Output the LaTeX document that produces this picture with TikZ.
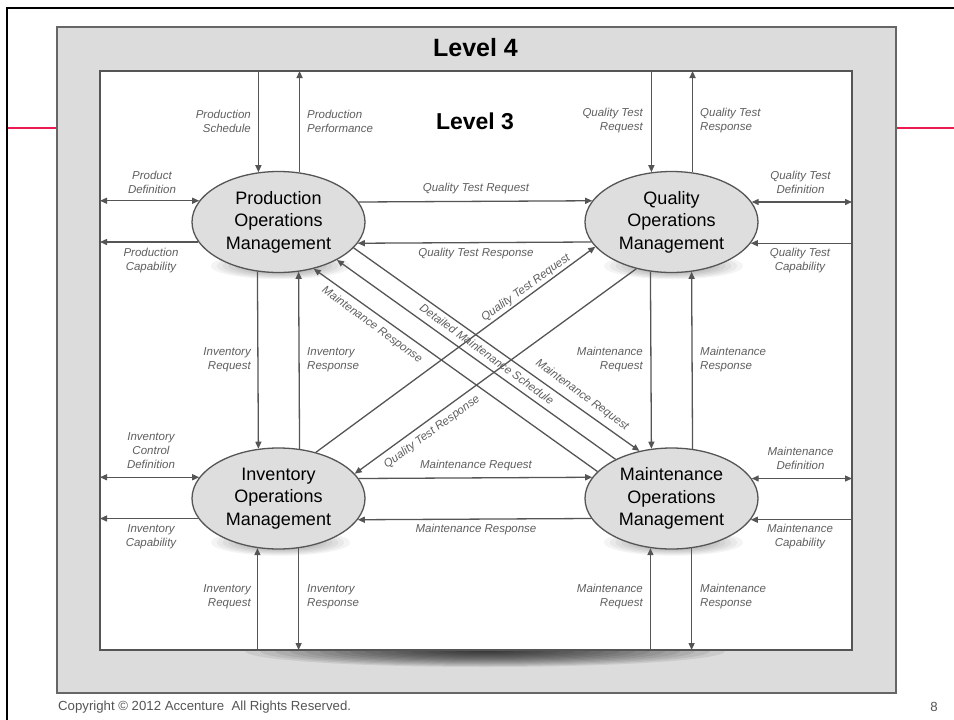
\documentclass[tikz,border=0pt]{standalone}
\usepackage{fontspec}
\setmainfont{Liberation Sans}
\usetikzlibrary{arrows.meta,shapes.geometric,calc}
\definecolor{lc}{RGB}{85,85,85}
\definecolor{txt}{RGB}{95,95,95}
\definecolor{bgfour}{RGB}{220,220,220}
\definecolor{ellfill}{RGB}{222,222,222}
\definecolor{accentred}{RGB}{235,25,80}
\tikzset{
  conn/.style={draw=lc, line width=1.3pt, -{Triangle[length=7pt,width=6pt]}},
  conntwo/.style={draw=lc, line width=1.3pt, {Triangle[length=7pt,width=6pt]}-{Triangle[length=7pt,width=6pt]}},
  lab/.style={font=\fontsize{11.5}{14}\selectfont\itshape, text=txt, inner sep=0pt},
  opm/.style={ellipse, draw=lc, line width=1.3pt, fill=ellfill, minimum width=173pt, minimum height=101pt,
     inner sep=0pt, align=center, font=\fontsize{18}{22.5}\selectfont},
  boxrect/.style={rectangle, inner sep=0pt, outer sep=0pt},
  softshadow/.style={fill=black, opacity=0.045},
}
\begin{document}
\begin{tikzpicture}[x=1pt,y=-1pt]
\useasboundingbox (0,0) rectangle (954,720);
\fill[white] (0,0) rectangle (954,720);
% slide frame
\draw[line width=2.4pt] (7,720) -- (7,8) -- (954,8);
\fill[accentred] (8,126.5) rectangle (56.5,128.5);
\fill[accentred] (896.5,126.5) rectangle (954,128.5);
% level 4 box
\node[boxrect, draw=lc!90, line width=1.3pt, fill=bgfour, minimum width=839pt, minimum height=666pt] (L4) at (476.5,360) {};
% bottom shadow of level 3 box
\begin{scope}
  \clip (101,651) rectangle (851,672);
  \foreach \k in {1,...,16} {
    \fill[black, opacity=0.075] (485,651) ellipse ({15*\k} and {1.0*\k});
  }
\end{scope}
% level 3 box
\node[boxrect, draw=lc, line width=1.3pt, fill=white, minimum width=752pt, minimum height=579pt] (L3) at (476,360.5) {};
\node[font=\fontsize{25}{28}\selectfont\bfseries] (t4) at (475.5,48) {Level 4};
\node[font=\fontsize{23}{26}\selectfont\bfseries] (t3) at (475,121) {Level 3};

% centres of the ellipses and their soft shadows
\coordinate (Pc) at (278.5,222);
\coordinate (Qc) at (671.5,222);
\coordinate (Ic) at (278.5,498.5);
\coordinate (Mc) at (671.5,498.5);
\foreach \c in {Pc,Qc,Ic,Mc} {
  \foreach \k in {1,...,12} {
    \path[softshadow] ($(\c)+(2,44)$) ellipse ({5.8*\k} and {1.1*\k});
  }
}

% ellipses
\node[opm] (P) at (Pc) {Production\\Operations\\Management};
\node[opm] (Q) at (Qc) {Quality\\Operations\\Management};
\node[opm] (I) at (Ic) {Inventory\\Operations\\Management};
\node[opm] (M) at (Mc) {Maintenance\\Operations\\Management};

% vertical connectors, top
\draw[conn] (P.112.67 |- L3.north) -- (P.112.67);
\draw[conn] (P.67.33) -- (P.67.33 |- L3.north);
\draw[conn] (Q.112.67 |- L3.north) -- (Q.112.67);
\draw[conn] (Q.67.33) -- (Q.67.33 |- L3.north);
% vertical connectors, middle
\draw[conn] (P.247.33) -- (I.112.67);
\draw[conn] (I.67.33) -- (P.292.67);
\draw[conn] (Q.247.33) -- (M.112.67);
\draw[conn] (M.67.33) -- (Q.292.67);
% vertical connectors, bottom
\draw[conn] (I.247.33 |- L3.south) -- (I.247.33);
\draw[conn] (I.292.67) -- (I.292.67 |- L3.south);
\draw[conn] (M.247.33 |- L3.south) -- (M.247.33);
\draw[conn] (M.292.67) -- (M.292.67 |- L3.south);

% horizontal connectors
\draw[conntwo] (L3.west |- P.165.36) -- (P.165.36);
\draw[conn] (P.194.64) -- (L3.west |- P.194.64);
\draw[conntwo] (Q.14.64) -- (L3.east |- Q.14.64);
\draw[conn] (L3.east |- Q.345.36) -- (Q.345.36);
\draw[conn] (P.14.64) -- (Q.165.36);
\draw[conn] (Q.194.64) -- (P.345.36);
\draw[conntwo] (L3.west |- I.165.36) -- (I.165.36);
\draw[conn] (I.194.64) -- (L3.west |- I.194.64);
\draw[conntwo] (M.14.64) -- (L3.east |- M.14.64);
\draw[conn] (L3.east |- M.345.36) -- (M.345.36);
\draw[conn] (I.14.64) -- (M.165.36);
\draw[conn] (M.194.64) -- (I.345.36);

% diagonal connectors
\draw[conn] (I.51.9) -- (Q.198.8);
\draw[conn] (Q.233.9) -- (I.18);
\draw[conn] (P.341.9) -- (M.124.3);
\draw[conn] (M.145.3) -- (P.327.4);
\draw[conn] (M.160.9) -- (P.307.3);

% labels top
\node[lab, anchor=east, align=right] (l1) at (251,121) {Production\\Schedule};
\node[lab, anchor=west, align=left] (l2) at (307,121) {Production\\Performance};
\node[lab, anchor=east, align=right] (l3) at (643,121) {Quality Test\\Request};
\node[lab, anchor=west, align=left] (l4) at (700,121) {Quality Test\\Response};
\node[lab, align=center] (l5) at (152,182) {Product\\Definition};
\node[lab, align=center] (l6) at (151,261) {Production\\Capability};
\node[lab, align=center] (l7) at (800.5,182) {Quality Test\\Definition};
\node[lab, align=center] (l8) at (800,261) {Quality Test\\Capability};
\node[lab] (l9) at (476,189) {Quality Test Request};
\node[lab] (l10) at (476,254) {Quality Test Response};
% labels middle
\node[lab, anchor=east, align=right] (l11) at (251,360) {Inventory\\Request};
\node[lab, anchor=west, align=left] (l12) at (307,360) {Inventory\\Response};
\node[lab, anchor=east, align=right] (l13) at (643,360) {Maintenance\\Request};
\node[lab, anchor=west, align=left] (l14) at (700,360) {Maintenance\\Response};
% labels lower
\node[lab, align=center] (l15) at (151,451) {Inventory\\Control\\Definition};
\node[lab, align=center] (l16) at (151,537) {Inventory\\Capability};
\node[lab, align=center] (l17) at (800.5,458) {Maintenance\\Definition};
\node[lab, align=center] (l18) at (800,537) {Maintenance\\Capability};
\node[lab] (l19) at (476,466) {Maintenance Request};
\node[lab] (l20) at (476,530) {Maintenance Response};
\node[lab, anchor=east, align=right] (l21) at (251,597) {Inventory\\Request};
\node[lab, anchor=west, align=left] (l22) at (307,597) {Inventory\\Response};
\node[lab, anchor=east, align=right] (l23) at (643,597) {Maintenance\\Request};
\node[lab, anchor=west, align=left] (l24) at (700,597) {Maintenance\\Response};
% diagonal labels
\node[lab, rotate=36] (d1) at (526,288) {Quality Test Request};
\node[lab, rotate=36] (d2) at (432,432) {Quality Test Response};
\node[lab, rotate=-36] (d3) at (372,325) {Maintenance Response};
\node[lab, rotate=-36] (d4) at (487,354) {Detailed Maintenance Schedule};
\node[lab, rotate=-36] (d5) at (582,395) {Maintenance Request};

% footer
\node[anchor=west, text=lc, font=\fontsize{13.2}{15}\selectfont, inner sep=0pt] (copy) at (58,707) {Copyright \textcopyright{} 2012 Accenture\ \ All Rights Reserved.};
\node[text=lc, font=\fontsize{13.2}{15}\selectfont, inner sep=0pt] (pg) at (934,707) {8};
\end{tikzpicture}
\end{document}
